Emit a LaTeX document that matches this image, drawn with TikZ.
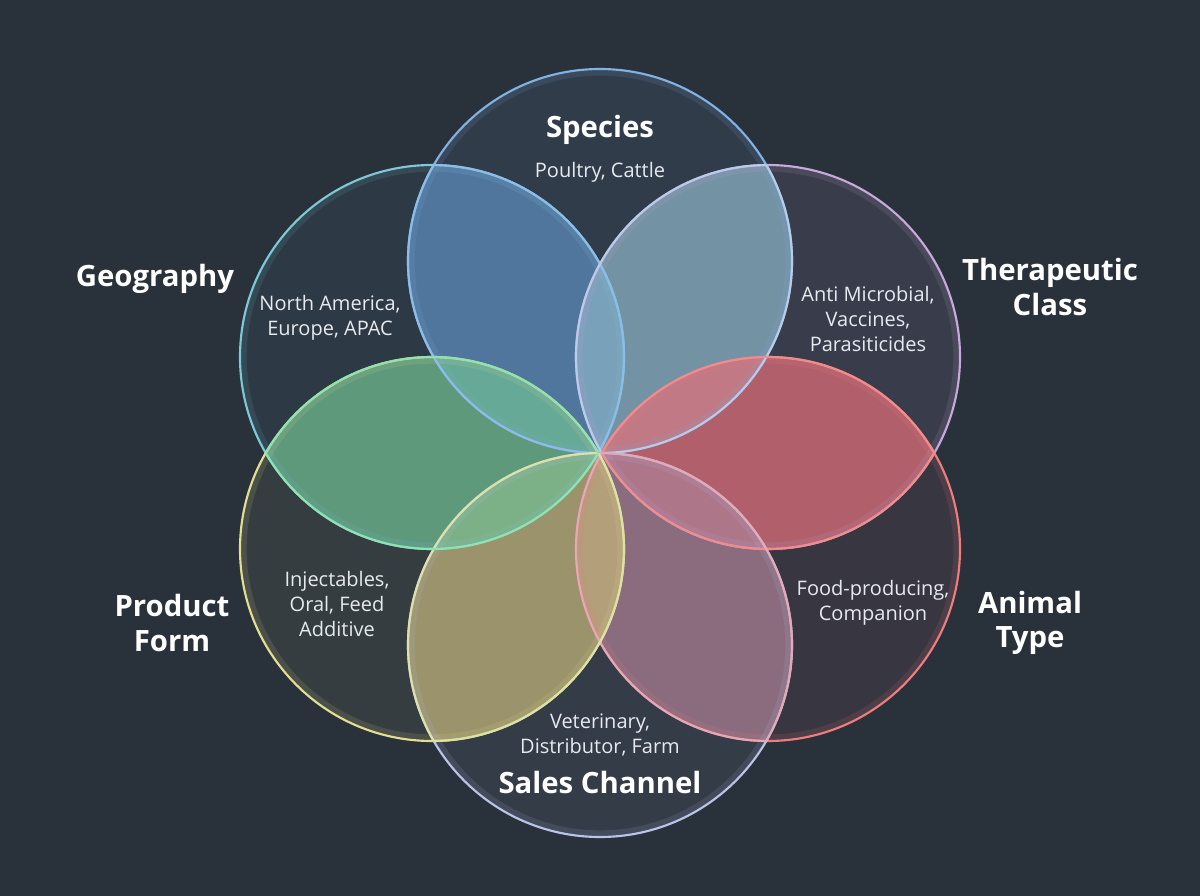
\documentclass[tikz,border=0pt]{standalone}
\usepackage{fontspec}
\setmainfont{Open Sans}
\usetikzlibrary{calc}

\definecolor{bgC}{HTML}{29313B}
\definecolor{txtC}{HTML}{E6EAEF}
% circle rims
\definecolor{spcC}{HTML}{82B2E2}
\definecolor{geoC}{HTML}{7DC9D9}
\definecolor{thrC}{HTML}{C9A8DC}
\definecolor{anmC}{HTML}{EE7D7D}
\definecolor{prdC}{HTML}{E4DF90}
\definecolor{salC}{HTML}{B9C5E8}
% lens fills
\definecolor{spgeoF}{HTML}{5D8CBF}
\definecolor{spthrF}{HTML}{8AB3C5}
\definecolor{thanF}{HTML}{DF6E78}
\definecolor{ansaF}{HTML}{AB7F95}
\definecolor{saprF}{HTML}{C3B478}
\definecolor{prgeF}{HTML}{6FBE93}
% lens rims
\definecolor{spgeoL}{HTML}{8DBCE8}
\definecolor{spthrL}{HTML}{B8CBE8}
\definecolor{thanL}{HTML}{F08C8C}
\definecolor{ansaL}{HTML}{E3A9B9}
\definecolor{saprL}{HTML}{DCE2A6}
\definecolor{prgeL}{HTML}{8FE3B0}

\newcommand{\Rad}{144pt}
\tikzset{
    Title/.style={font=\bfseries\fontsize{22}{26}\selectfont, text=white, align=center},
    Items/.style={font=\fontsize{15}{19}\selectfont, text=txtC, align=center},
    Rim/.style={draw=#1, line width=1.6pt},
}
% fill the lens of two circles
\newcommand{\Lens}[3]{%
    \begin{scope}\clip (#1) circle (\Rad);
    \fill[#3, opacity=0.7] (#2) circle (\Rad);\end{scope}}
% circle rim with soft inner glow
\newcommand{\Ring}[2]{%
    \begin{scope}\clip (#1) circle (\Rad);
    \draw[#2, line width=10pt, opacity=0.12] (#1) circle (\Rad);\end{scope}
    \draw[Rim=#2] (#1) circle (\Rad);}
% rims of a lens in a mixed colour
\newcommand{\LensRim}[3]{%
    \begin{scope}\clip (#1) circle (\Rad); \draw[Rim=#3] (#2) circle (\Rad);\end{scope}
    \begin{scope}\clip (#2) circle (\Rad); \draw[Rim=#3] (#1) circle (\Rad);\end{scope}}

\begin{document}
\begin{tikzpicture}[x=0.75pt, y=-0.75pt]
\fill[bgC] (0,0) rectangle (1200,896);
\useasboundingbox (0,0) rectangle (1200,896);

% centres of the six sets
\coordinate (spc) at (600,261);
\coordinate (geo) at (432,357);
\coordinate (thr) at (768,357);
\coordinate (prd) at (432,549);
\coordinate (anm) at (768,549);
\coordinate (sal) at (600,645);

% light tint of each set
\fill[spcC, opacity=0.09] (spc) circle (\Rad);
\fill[geoC, opacity=0.06] (geo) circle (\Rad);
\fill[thrC, opacity=0.10] (thr) circle (\Rad);
\fill[anmC, opacity=0.08] (anm) circle (\Rad);
\fill[prdC, opacity=0.07] (prd) circle (\Rad);
\fill[salC, opacity=0.08] (sal) circle (\Rad);

% overlaps
\Lens{spc}{geo}{spgeoF}
\Lens{spc}{thr}{spthrF}
\Lens{thr}{anm}{thanF}
\Lens{anm}{sal}{ansaF}
\Lens{sal}{prd}{saprF}
\Lens{prd}{geo}{prgeF}

% rims
\Ring{spc}{spcC}
\Ring{geo}{geoC}
\Ring{thr}{thrC}
\Ring{anm}{anmC}
\Ring{prd}{prdC}
\Ring{sal}{salC}
\LensRim{spc}{geo}{spgeoL}
\LensRim{spc}{thr}{spthrL}
\LensRim{thr}{anm}{thanL}
\LensRim{anm}{sal}{ansaL}
\LensRim{sal}{prd}{saprL}
\LensRim{prd}{geo}{prgeL}

% labels
\node[Title] (spcT) at (600,130) {Species};
\node[Items] (spcI) at (600,172) {Poultry, Cattle};
\node[Title] (geoT) at (155,279) {Geography};
\node[Items] (geoI) at (330,318) {North America,\\Europe, APAC};
\node[Title] (thrT) at (1050,287) {Therapeutic\\Class};
\node[Items] (thrI) at (868,319) {Anti Microbial,\\Vaccines,\\Parasiticides};
\node[Title] (prdT) at (172,623) {Product\\Form};
\node[Items] (prdI) at (337,604) {Injectables,\\Oral, Feed\\Additive};
\node[Title] (anmT) at (1030,623) {Animal\\Type};
\node[Items] (anmI) at (873,603) {Food-producing,\\Companion};
\node[Items] (salI) at (600,735) {Veterinary,\\Distributor, Farm};
\node[Title] (salT) at (600,782) {Sales Channel};
\end{tikzpicture}
\end{document}
